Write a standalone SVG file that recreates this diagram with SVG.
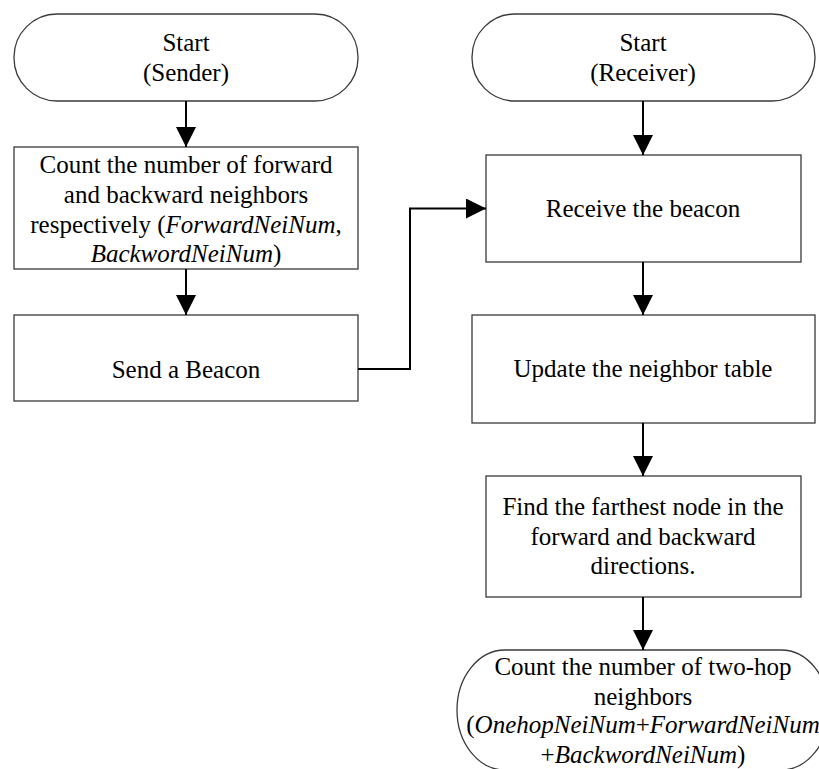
<svg xmlns="http://www.w3.org/2000/svg" width="819" height="769" viewBox="0 0 819 769">
  <style>
    .shape { fill: #ffffff; stroke: #3a3a3a; stroke-width: 1.3; }
    .flow { fill: none; stroke: #000000; stroke-width: 2; }
    text { font-family: "Liberation Serif", "Times New Roman", serif; font-size: 25px; fill: #000000; text-anchor: middle; }
    .it { font-style: italic; }
  </style>
  <defs>
    <marker id="arrow" markerUnits="userSpaceOnUse" markerWidth="20" markerHeight="20" refX="20" refY="10" orient="auto" viewBox="0 0 20 20">
      <path d="M0,0 L20,10 L0,20 Z" fill="#000000"/>
    </marker>
  </defs>

  <!-- Sender column -->
  <g id="start-sender">
    <rect class="shape" x="14" y="14" width="344" height="87" rx="43" ry="43"/>
    <text x="186" y="51">Start</text>
    <text x="186" y="81">(Sender)</text>
  </g>
  <g id="count-neighbors">
    <rect class="shape" x="14" y="147" width="344" height="122"/>
    <text x="186" y="173">Count the number of forward</text>
    <text x="186" y="203">and backward neighbors</text>
    <text x="186" y="233">respectively (<tspan class="it">ForwardNeiNum</tspan>,</text>
    <text x="186" y="262"><tspan class="it">BackwordNeiNum</tspan>)</text>
  </g>
  <g id="send-beacon">
    <rect class="shape" x="14" y="315" width="344" height="86"/>
    <text x="186" y="378">Send a Beacon</text>
  </g>

  <!-- Receiver column -->
  <g id="start-receiver">
    <rect class="shape" x="472" y="14" width="343" height="87" rx="43" ry="43"/>
    <text x="643" y="51">Start</text>
    <text x="643" y="81">(Receiver)</text>
  </g>
  <g id="receive-beacon">
    <rect class="shape" x="486" y="155" width="315" height="107"/>
    <text x="643" y="217">Receive the beacon</text>
  </g>
  <g id="update-table">
    <rect class="shape" x="472" y="315" width="343" height="108"/>
    <text x="643" y="377">Update the neighbor table</text>
  </g>
  <g id="find-farthest">
    <rect class="shape" x="486" y="476" width="315" height="121"/>
    <text x="643" y="515">Find the farthest node in the</text>
    <text x="643" y="545">forward and backward</text>
    <text x="643" y="574">directions.</text>
  </g>
  <g id="count-two-hop">
    <rect class="shape" x="457" y="650" width="372" height="120" rx="48" ry="60"/>
    <text x="643" y="675">Count the number of two-hop</text>
    <text x="643" y="705">neighbors</text>
    <text x="643" y="733">(<tspan class="it">OnehopNeiNum</tspan>+<tspan class="it">ForwardNeiNum</tspan></text>
    <text x="643" y="763">+<tspan class="it">BackwordNeiNum</tspan>)</text>
  </g>

  <!-- Connectors -->
  <g id="connectors">
    <path class="flow" d="M186,101 V147" marker-end="url(#arrow)"/>
    <path class="flow" d="M186,269 V315" marker-end="url(#arrow)"/>
    <path class="flow" d="M358,369 H410 V208.5 H486" marker-end="url(#arrow)"/>
    <path class="flow" d="M643,101 V155" marker-end="url(#arrow)"/>
    <path class="flow" d="M643,262 V315" marker-end="url(#arrow)"/>
    <path class="flow" d="M643,423 V476" marker-end="url(#arrow)"/>
    <path class="flow" d="M643,597 V650" marker-end="url(#arrow)"/>
  </g>
</svg>
